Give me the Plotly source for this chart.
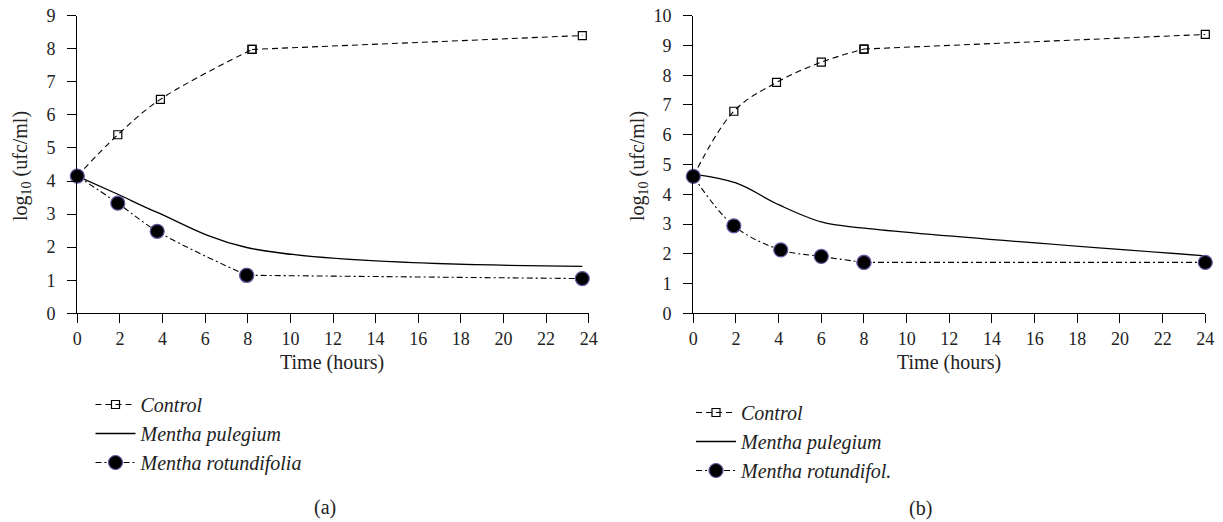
import plotly.graph_objects as go

W, H = 1223, 522

# ---- Data panel (a) ----
a_ctrl_x = [0, 1.9, 3.9, 8.2, 23.7]
a_ctrl_y = [4.15, 5.4, 6.47, 7.98, 8.4]
a_pul_x = [0, 1.9, 3.75, 7.95, 23.7]
a_pul_y = [4.15, 3.6, 3.05, 1.99, 1.42]
a_rot_x = [0, 1.9, 3.75, 7.95, 23.7]
a_rot_y = [4.15, 3.33, 2.48, 1.15, 1.05]

# ---- Data panel (b) ----
b_ctrl_x = [0, 1.9, 3.9, 6, 8, 24]
b_ctrl_y = [4.6, 6.79, 7.76, 8.44, 8.88, 9.37]
b_pul_x = [0, 2, 4, 6, 8, 24]
b_pul_y = [4.68, 4.38, 3.65, 3.07, 2.86, 1.93]
b_rot_x = [0, 1.9, 4.1, 6, 8, 24]
b_rot_y = [4.6, 2.94, 2.13, 1.91, 1.71, 1.71]

x_ticks = list(range(0, 25, 2))
a_y_ticks = list(range(0, 10))
b_y_ticks = list(range(0, 11))

names = ["Control", "Mentha pulegium", "Mentha rotundifolia"]
names_b = ["Control", "Mentha pulegium", "Mentha rotundifol."]

FONT = "Liberation Serif"
PURPLE = "#6a55a0"


def px_x(p):
    return p / W


def px_y(p):
    return 1 - p / H


fig = go.Figure()

ctrl_line = dict(color="black", width=1.1, dash="6px,4px")
ctrl_marker = dict(symbol="square-open", size=8, color="black", line=dict(width=1.2))
rot_line = dict(color="black", width=1.1, dash="6px,3px,2px,3px")
rot_marker = dict(symbol="circle", size=14, color="black", line=dict(color=PURPLE, width=1.2))


def add_panel(xa, ya, legend, cx, cy, px_, py_, rx, ry, nm):
    # control: smoothed early part + straight last segment
    fig.add_trace(go.Scatter(
        x=cx[:-1], y=cy[:-1], xaxis=xa, yaxis=ya, legend=legend,
        name="<i>%s</i>" % nm[0], mode="lines+markers", cliponaxis=False,
        line=dict(shape="spline", smoothing=1, **ctrl_line), marker=ctrl_marker,
    ))
    fig.add_trace(go.Scatter(
        x=cx[-2:], y=cy[-2:], xaxis=xa, yaxis=ya, legend=legend, showlegend=False,
        mode="lines+markers", cliponaxis=False, line=ctrl_line, marker=ctrl_marker,
    ))
    fig.add_trace(go.Scatter(
        x=px_, y=py_, xaxis=xa, yaxis=ya, legend=legend,
        name="<i>%s</i>" % nm[1], mode="lines", cliponaxis=False,
        line=dict(color="black", width=1.3, shape="spline", smoothing=1),
    ))
    fig.add_trace(go.Scatter(
        x=rx[-2:], y=ry[-2:], xaxis=xa, yaxis=ya, legend=legend, showlegend=False,
        mode="lines+markers", cliponaxis=False, line=rot_line, marker=rot_marker,
    ))
    fig.add_trace(go.Scatter(
        x=rx[:-1], y=ry[:-1], xaxis=xa, yaxis=ya, legend=legend,
        name="<i>%s</i>" % nm[2], mode="lines+markers", cliponaxis=False,
        line=dict(shape="spline", smoothing=1, **rot_line), marker=rot_marker,
    ))


add_panel("x", "y", "legend", a_ctrl_x, a_ctrl_y, a_pul_x, a_pul_y, a_rot_x, a_rot_y, names)
add_panel("x2", "y2", "legend2", b_ctrl_x, b_ctrl_y, b_pul_x, b_pul_y, b_rot_x, b_rot_y, names_b)

tickfont = dict(family=FONT, size=18, color="#222")
common_x = dict(range=[0, 24], tickvals=x_ticks, showline=True, linecolor="black", linewidth=1.3,
                ticks="outside", ticklen=9, tickwidth=1.3, tickcolor="black", showgrid=False,
                zeroline=False, tickfont=tickfont, ticklabelstandoff=0, fixedrange=True,
                automargin=False)
common_y = dict(showline=True, linecolor="black", linewidth=1.3,
                ticks="outside", ticklen=9, tickwidth=1.3, tickcolor="black", showgrid=False,
                zeroline=False, tickfont=tickfont, ticklabelstandoff=8, fixedrange=True,
                automargin=False)

ydom = [px_y(313.3), px_y(15.7)]

legend_common = dict(font=dict(family=FONT, size=20, color="#222"), bgcolor="rgba(0,0,0,0)",
                     xanchor="left", yanchor="top", itemwidth=40, tracegroupgap=0,
                     itemclick=False, itemdoubleclick=False)

fig.update_layout(
    width=W, height=H,
    margin=dict(l=0, r=0, t=0, b=0, autoexpand=False),
    plot_bgcolor="white", paper_bgcolor="white",
    xaxis=dict(domain=[px_x(77.3), px_x(588.7)], anchor="y", **common_x),
    yaxis=dict(domain=ydom, anchor="x", range=[0, 9], tickvals=a_y_ticks, **common_y),
    xaxis2=dict(domain=[px_x(693.3), px_x(1205.3)], anchor="y2", **common_x),
    yaxis2=dict(domain=ydom, anchor="x2", range=[0, 10], tickvals=b_y_ticks, **common_y),
    legend=dict(x=px_x(90.5), y=px_y(385), **legend_common),
    legend2=dict(x=px_x(691), y=px_y(393), **legend_common),
    showlegend=True,
)

ann_font = dict(family=FONT, size=20, color="#222")
annotations = [
    dict(text="Time (hours)", x=px_x(332), y=px_y(362)),
    dict(text="Time (hours)", x=px_x(949), y=px_y(362)),
    dict(text="log<sub>10</sub> (ufc/ml)", x=px_x(21), y=px_y(166), textangle=-90),
    dict(text="log<sub>10</sub> (ufc/ml)", x=px_x(638), y=px_y(166), textangle=-90),
    dict(text="(a)", x=px_x(325), y=px_y(507)),
    dict(text="(b)", x=px_x(920), y=px_y(508)),
]
for a in annotations:
    a.update(xref="paper", yref="paper", showarrow=False, font=ann_font,
             xanchor="center", yanchor="middle")
fig.update_layout(annotations=annotations)

fig.write_html(
    "out.html",
    config={"displayModeBar": False, "staticPlot": False},
    post_script="document.body.style.margin='0';document.body.style.overflow='hidden';",
)
